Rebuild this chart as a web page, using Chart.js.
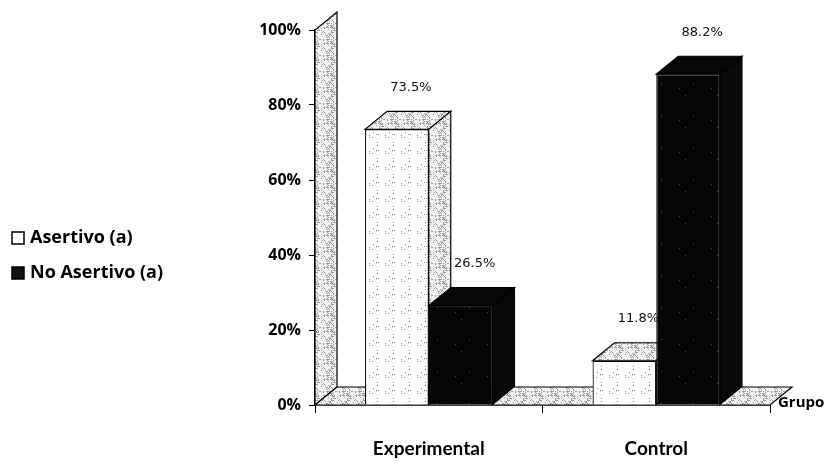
<!DOCTYPE html>
<html>
<head>
<meta charset="utf-8">
<script src="https://cdn.jsdelivr.net/npm/chart.js@4"></script>
<style>
  html, body { margin: 0; padding: 0; background: #fff; }
</style>
</head>
<body>
<canvas id="chart" width="837" height="464"></canvas>
<script>
const categories = ['Experimental', 'Control'];
const seriesNames = ['Asertivo (a)', 'No Asertivo (a)'];
const asertivo = [73.5, 11.8];
const noAsertivo = [26.5, 88.2];
const yTicks = [0, 20, 40, 60, 80, 100];
const axisTitle = 'Grupo';

const DX = 22, DY = 18; // fake 3D depth
const canvas = document.getElementById('chart');
const ctx = canvas.getContext('2d');

// small deterministic stipple patterns to mimic the scanned fill
function stipple(bg, fg, count, size, seed) {
  const c = document.createElement('canvas');
  c.width = c.height = size;
  const g = c.getContext('2d');
  g.fillStyle = bg;
  g.fillRect(0, 0, size, size);
  g.fillStyle = fg;
  let s = seed;
  for (let i = 0; i < count; i++) {
    s = (s * 16807) % 2147483647;
    const x = s % size;
    s = (s * 16807) % 2147483647;
    const y = s % size;
    g.fillRect(x, y, 1, 1);
  }
  return ctx.createPattern(c, 'repeat');
}

const whiteFront = stipple('#ffffff', '#8a8a8a', 8, 16, 7);
const greyFace = stipple('#f2f2f2', '#9a9a9a', 70, 16, 11);
const blackFill = stipple('#050505', '#4a4a4a', 3, 32, 3);

const faceFills = [greyFace, '#080808'];

function poly(pts, fill) {
  ctx.beginPath();
  ctx.moveTo(pts[0][0], pts[0][1]);
  for (let i = 1; i < pts.length; i++) ctx.lineTo(pts[i][0], pts[i][1]);
  ctx.closePath();
  ctx.fillStyle = fill;
  ctx.fill();
  ctx.strokeStyle = '#000';
  ctx.lineWidth = 1.2;
  ctx.stroke();
}

const depthPlugin = {
  id: 'depth',
  beforeDatasetsDraw(chart) {
    const { left, right, top, bottom } = chart.chartArea;
    const c = chart.ctx;
    c.save();
    // back wall
    poly([[left, bottom], [left, top], [left + DX, top - DY], [left + DX, bottom - DY]], greyFace);
    // floor
    poly([[left, bottom], [right, bottom], [right + DX, bottom - DY], [left + DX, bottom - DY]], greyFace);
    // top and side faces of the bars
    chart.data.datasets.forEach((ds, di) => {
      chart.getDatasetMeta(di).data.forEach((bar) => {
        const x0 = bar.x - bar.width / 2, x1 = bar.x + bar.width / 2;
        const yT = bar.y, yB = bar.base;
        poly([[x0, yT], [x1, yT], [x1 + DX, yT - DY], [x0 + DX, yT - DY]], faceFills[di]);
        poly([[x1, yT], [x1 + DX, yT - DY], [x1 + DX, yB - DY], [x1, yB]], faceFills[di]);
      });
    });
    c.restore();
  },
  afterDatasetsDraw(chart) {
    const c = chart.ctx;
    c.save();
    c.font = '13px "DejaVu Sans"';
    c.fillStyle = '#111';
    c.textAlign = 'center';
    c.textBaseline = 'middle';
    chart.data.datasets.forEach((ds, di) => {
      chart.getDatasetMeta(di).data.forEach((bar, i) => {
        c.fillText(ds.data[i].toFixed(1) + '%', bar.x + DX / 2 + 3, bar.y - 42);
      });
    });
    c.restore();
  },
  afterDraw(chart) {
    const c = chart.ctx;
    const { right, bottom } = chart.chartArea;
    c.save();
    // axis title at the end of the category axis
    c.font = 'bold 15px "Open Sans"';
    c.fillStyle = '#000';
    c.textAlign = 'left';
    c.textBaseline = 'middle';
    c.fillText(axisTitle, right + 8, bottom - 2);
    // legend on the left
    const items = [
      { label: seriesNames[0], fill: '#fff', y: 238 },
      { label: seriesNames[1], fill: '#111', y: 273 }
    ];
    c.font = 'bold 18px "Open Sans"';
    items.forEach((it) => {
      c.fillStyle = it.fill;
      c.fillRect(12, it.y - 6, 12, 12);
      c.strokeStyle = '#000';
      c.lineWidth = 1.5;
      c.strokeRect(12, it.y - 6, 12, 12);
      c.fillStyle = '#000';
      c.fillText(it.label, 30, it.y);
    });
    c.restore();
  }
};

new Chart(ctx, {
  type: 'bar',
  data: {
    labels: categories,
    datasets: [
      {
        label: seriesNames[0],
        data: asertivo,
        backgroundColor: whiteFront,
        borderColor: '#000',
        borderWidth: 1.2,
        barPercentage: 1,
        categoryPercentage: 0.56
      },
      {
        label: seriesNames[1],
        data: noAsertivo,
        backgroundColor: blackFill,
        borderColor: '#000',
        borderWidth: 1.2,
        barPercentage: 1,
        categoryPercentage: 0.56
      }
    ]
  },
  options: {
    responsive: false,
    animation: false,
    layout: { padding: { top: 30, right: 67, bottom: 0, left: 0 } },
    plugins: {
      legend: { display: false },
      tooltip: { enabled: false }
    },
    scales: {
      x: {
        offset: true,
        grid: { display: true, drawOnChartArea: false, tickLength: 8, color: '#000' },
        border: { color: '#000', width: 1.5 },
        ticks: { color: '#000', font: { family: 'Lato', weight: 'bold', size: 19 }, padding: 24 },
        afterFit(scale) { scale.height = 59; }
      },
      y: {
        min: 0,
        max: 100,
        afterBuildTicks(scale) { scale.ticks = yTicks.map((v) => ({ value: v })); },
        grid: { display: true, drawOnChartArea: false, tickLength: 6, color: '#000' },
        border: { color: '#000', width: 2 },
        ticks: {
          color: '#000',
          font: { family: 'Open Sans', weight: 'bold', size: 16 },
          padding: 8,
          callback: (v) => v + '%'
        },
        afterFit(scale) { scale.width = 315; }
      }
    }
  },
  plugins: [depthPlugin]
});
</script>
</body>
</html>
